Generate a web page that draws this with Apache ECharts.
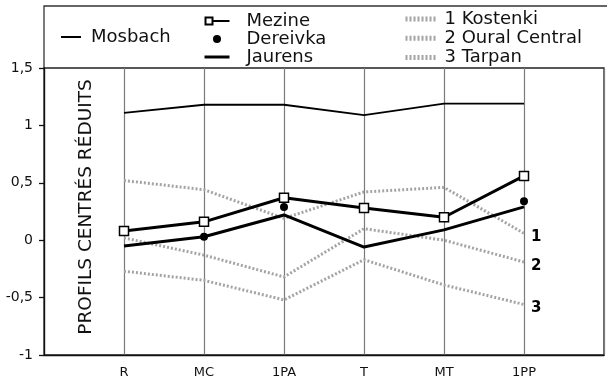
<!DOCTYPE html>
<html>
<head>
<meta charset="utf-8">
<script src="https://cdn.jsdelivr.net/npm/echarts@6/dist/echarts.min.js"></script>
<style>
html,body{margin:0;padding:0;background:#fff;}
#chart{width:607px;height:390px;}
</style>
</head>
<body>
<div id="chart"></div>
<script>
// ---- data ----
var categories = ['R', 'MC', '1PA', 'T', 'MT', '1PP'];
var yTicks = [-1, -0.5, 0, 0.5, 1, 1.5];
var mosbach  = [1.11, 1.18, 1.18, 1.09, 1.19, 1.19];
var mezine   = [0.08, 0.16, 0.37, 0.28, 0.20, 0.56];
var dereivka = [null, 0.03, 0.29, null, null, 0.34];
var jaurens  = [-0.05, 0.03, 0.22, -0.06, 0.09, 0.29];
var kostenki = [0.52, 0.44, 0.19, 0.42, 0.46, 0.06];
var oural    = [0.02, -0.13, -0.32, 0.10, 0.00, -0.19];
var tarpan   = [-0.27, -0.35, -0.52, -0.17, -0.39, -0.56];
var yTitle = 'PROFILS CENTRÉS RÉDUITS';

function pts(arr) { return arr.map(function (v, i) { return [i, v]; }); }

var FONT = 'DejaVu Sans';
var GRAY = '#a4a4a4';
var grayLine = { color: GRAY, width: 3, type: [2, 2] };
function graySeries(name, arr) {
  return {
    name: name, type: 'line', data: pts(arr), symbol: 'none', z: 2,
    lineStyle: grayLine, itemStyle: { color: GRAY },
    endLabel: { show: true, formatter: function (p) { return p.seriesName.charAt(0); },
      distance: 7, offset: [0, 4], color: '#000', fontSize: 15, fontFamily: FONT, fontWeight: 'bold' }
  };
}
var hideSym = { opacity: 0 };
var legendText = { fontSize: 18, fontFamily: FONT, color: '#111', lineHeight: 18 };
var mezineIcon = 'path://M0,0H9V9H0Z M2,7H7V2H2Z M9,3.5H25V5.5H9Z';

var chart = echarts.init(document.getElementById('chart'), null, { renderer: 'canvas' });
chart.setOption({
  animation: false,
  backgroundColor: '#fff',
  grid: { left: 44, right: -3, top: 68, bottom: 35, show: true, borderColor: '#222', borderWidth: 1.3, backgroundColor: 'transparent' },
  xAxis: {
    type: 'value', min: -1, max: 6, interval: 1,
    axisLine: { show: true, onZero: false, lineStyle: { color: '#111', width: 1.3 } },
    axisTick: { show: false },
    splitLine: { show: true, lineStyle: { color: '#7a7a7a', width: 1.2 } },
    axisLabel: { margin: 11, color: '#111', fontSize: 13, fontFamily: FONT,
      formatter: function (v) { return Number.isInteger(v) && categories[v] !== undefined ? categories[v] : ''; } }
  },
  yAxis: {
    type: 'value', min: yTicks[0], max: yTicks[yTicks.length - 1], interval: 0.5,
    axisLine: { show: true, onZero: false, lineStyle: { color: '#111', width: 1.3 } },
    axisTick: { show: true, length: 5, lineStyle: { color: '#111', width: 1.3 } },
    splitLine: { show: false },
    axisLabel: { margin: 11, color: '#111', fontSize: 14, fontFamily: FONT,
      formatter: function (v) { return String(v).replace('.', ','); } }
  },
  legend: [
    { data: [{ name: 'Mosbach', itemStyle: hideSym }], left: 60, top: 28, padding: 0, itemWidth: 20, itemHeight: 10, itemGap: 0,
      textStyle: Object.assign({ padding: [0, 0, 0, 5] }, legendText) },
    { data: [{ name: 'Mezine', icon: mezineIcon, itemStyle: { color: '#000', borderWidth: 0 } },
             'Dereivka',
             { name: 'Jaurens', itemStyle: hideSym, lineStyle: { width: 3 } }],
      orient: 'vertical', left: 203, top: 12, padding: 0,
      itemWidth: 25, itemHeight: 10, itemGap: 0,
      textStyle: Object.assign({ padding: [0, 0, 0, 12] }, legendText) },
    { data: [{ name: '1 Kostenki', itemStyle: hideSym, lineStyle: { width: 5 } },
             { name: '2 Oural Central', itemStyle: hideSym, lineStyle: { width: 5 } },
             { name: '3 Tarpan', itemStyle: hideSym, lineStyle: { width: 5 } }],
      orient: 'vertical', left: 403, top: 10, padding: 0, itemWidth: 30, itemHeight: 10, itemGap: 1.2,
      textStyle: Object.assign({ padding: [0, 0, 0, 4] }, legendText) }
  ],
  graphic: [
    { type: 'polyline', shape: { points: [[44, 68], [44, 6], [607, 6]] }, style: { stroke: '#333', lineWidth: 1.3, fill: null }, silent: true },
    { type: 'text', x: 86, y: 207, rotation: Math.PI / 2,
      style: { text: yTitle, fill: '#111', font: '18.5px "DejaVu Sans"', textAlign: 'center', textVerticalAlign: 'middle' } }
  ],
  series: [
    graySeries('1 Kostenki', kostenki),
    graySeries('2 Oural Central', oural),
    graySeries('3 Tarpan', tarpan),
    { name: 'Mosbach', type: 'line', data: pts(mosbach), symbol: 'none', z: 3,
      lineStyle: { color: '#000', width: 1.8 }, itemStyle: { color: '#000' } },
    { name: 'Jaurens', type: 'line', data: pts(jaurens), symbol: 'none', z: 4,
      lineStyle: { color: '#000', width: 3 }, itemStyle: { color: '#000' } },
    { name: 'Mezine', type: 'line', data: pts(mezine), symbol: 'rect', symbolSize: 9, showSymbol: true, z: 5,
      lineStyle: { color: '#000', width: 3 }, itemStyle: { color: '#fff', borderColor: '#000', borderWidth: 1.5 } },
    { name: 'Dereivka', type: 'line', data: pts(dereivka), symbol: 'circle', symbolSize: 8, showSymbol: true, z: 6,
      lineStyle: { color: '#000', width: 0, opacity: 0 }, itemStyle: { color: '#000' } }
  ]
});
</script>
</body>
</html>
